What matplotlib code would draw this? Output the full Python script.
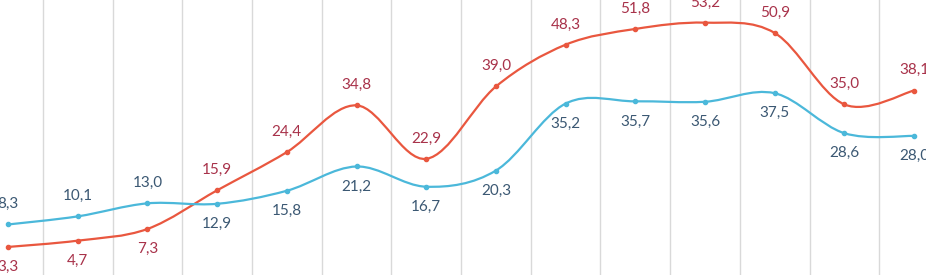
import numpy as np
import matplotlib
matplotlib.use('Agg')
import matplotlib.pyplot as plt
from matplotlib.path import Path
from matplotlib.patches import PathPatch

# values
red_vals = [3.3, 4.7, 7.3, 15.9, 24.4, 34.8, 22.9, 39.0, 48.3, 51.8, 53.2, 50.9, 35.0, 38.1]
blue_vals = [8.3, 10.1, 13.0, 12.9, 15.8, 21.2, 16.7, 20.3, 35.2, 35.7, 35.6, 37.5, 28.6, 28.0]
# label position: True = above the point
red_above = [False, False, False] + [True] * 11
blue_above = [True, True, True] + [False] * 11

red_col = '#E9573F'
blue_col = '#4BB8DA'
red_txt = '#A8324A'
blue_txt = '#3B5873'


def smooth_path(xs, ys):
    # Excel-like smoothed line: cubic bezier, catmull-rom style handles
    pts = np.column_stack([xs, ys]).astype(float)
    n = len(pts)
    verts = [pts[0]]
    codes = [Path.MOVETO]
    for i in range(n - 1):
        p0 = pts[i - 1] if i > 0 else pts[i]
        p1 = pts[i]
        p2 = pts[i + 1]
        p3 = pts[i + 2] if i + 2 < n else pts[i + 1]
        c1 = p1 + (p2 - p0) / 6.0
        c2 = p2 - (p3 - p1) / 6.0
        verts += [c1, c2, p2]
        codes += [Path.CURVE4] * 3
    return Path(verts, codes)


fig = plt.figure(figsize=(9.26, 2.75), dpi=100)
ax = fig.add_axes([0, 0, 1, 1])
x = np.arange(len(red_vals))

for v in x:
    ax.axvline(v + 0.5, color='#D9D9D9', lw=1.0, zorder=0)

for vals, col, tcol, above in [(red_vals, red_col, red_txt, red_above),
                               (blue_vals, blue_col, blue_txt, blue_above)]:
    ax.add_patch(PathPatch(smooth_path(x, vals), fill=False, edgecolor=col, lw=1.6, zorder=2))
    ax.plot(x, vals, 'o', color=col, ms=3, zorder=3)
    for xi, v, a in zip(x, vals, above):
        ax.annotate(('%.1f' % v).replace('.', ','), (xi, v),
                    xytext=(0, 14.5 if a else -14.5), textcoords='offset points',
                    ha='center', va='center', fontsize=11, color=tcol,
                    family='Lato')

ax.set_xlim(-0.115, 13.17)
ax.set_ylim(-2.94, 58.24)
ax.axis('off')

fig.savefig('out.png', dpi=100)
